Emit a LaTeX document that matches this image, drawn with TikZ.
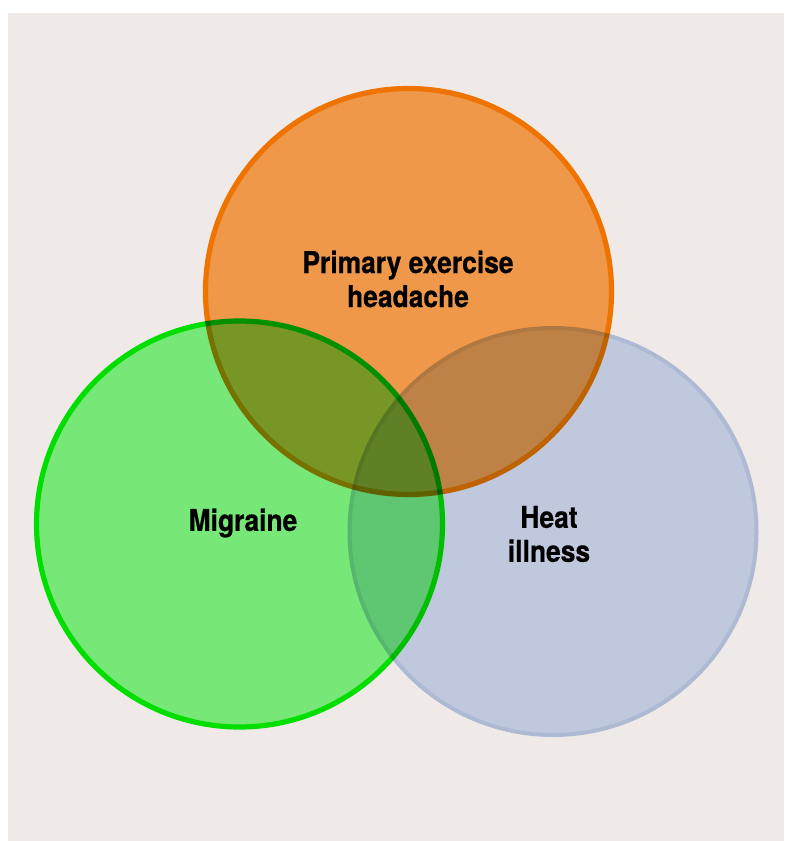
\documentclass[tikz,border=0pt]{standalone}
\usepackage{fontspec}
\setmainfont{TeX Gyre Heros}[FakeStretch=0.88, FakeBold=0.6]
\definecolor{panel bg}{HTML}{EFEAE8}
\definecolor{orange fill}{HTML}{FFA652}
\definecolor{orange line}{HTML}{FF7E00}
\definecolor{green fill}{HTML}{80FC84}
\definecolor{green line}{HTML}{00F200}
\definecolor{blue fill}{HTML}{CCDBF2}
\definecolor{blue line}{HTML}{BACAEA}
\tikzset{set circle/.style={line width=3.9pt},
    set exercise/.style={set circle, fill=orange fill, draw=orange line},
    set migraine/.style={set circle, fill=green fill, draw=green line},
    set heat/.style={set circle, fill=blue fill, draw=blue line, line width=3pt},
    set label/.style={font=\bfseries\fontsize{22.5}{25.5}\selectfont, align=center, text=black},
}

\begin{document}
\begin{tikzpicture}[x=0.75pt, y=-0.75pt]
	\useasboundingbox (0, 0) rectangle (784, 841);
	% panel
	\fill[white] (0, 0) rectangle (784, 841);
	\fill[panel bg] (8, 13) rectangle (784, 841);

	% centres of the three sets
	\coordinate (exercise) at (408.5, 291.5);
	\coordinate (migraine) at (239.5, 524);
	\coordinate (heat) at (553, 531.5);

	% circles, each one multiplied onto what lies below
	\begin{scope}[blend mode=multiply]
		\begin{scope}[transparency group]
			\draw[set migraine] (migraine) circle[radius=203];
		\end{scope}
	\end{scope}
	\begin{scope}[blend mode=multiply]
		\begin{scope}[transparency group]
			\draw[set exercise] (exercise) circle[radius=203];
		\end{scope}
	\end{scope}
	\begin{scope}[blend mode=multiply]
		\begin{scope}[transparency group]
			\draw[set heat] (heat) circle[radius=203.5];
		\end{scope}
	\end{scope}

	% labels
		\node[set label] (exercise label) at (408, 279) {Primary exercise\\headache};
		\node[set label] (migraine label) at (243, 523) {Migraine};
		\node[set label] (heat label) at (549, 534) {Heat\\illness};
\end{tikzpicture}
\end{document}
